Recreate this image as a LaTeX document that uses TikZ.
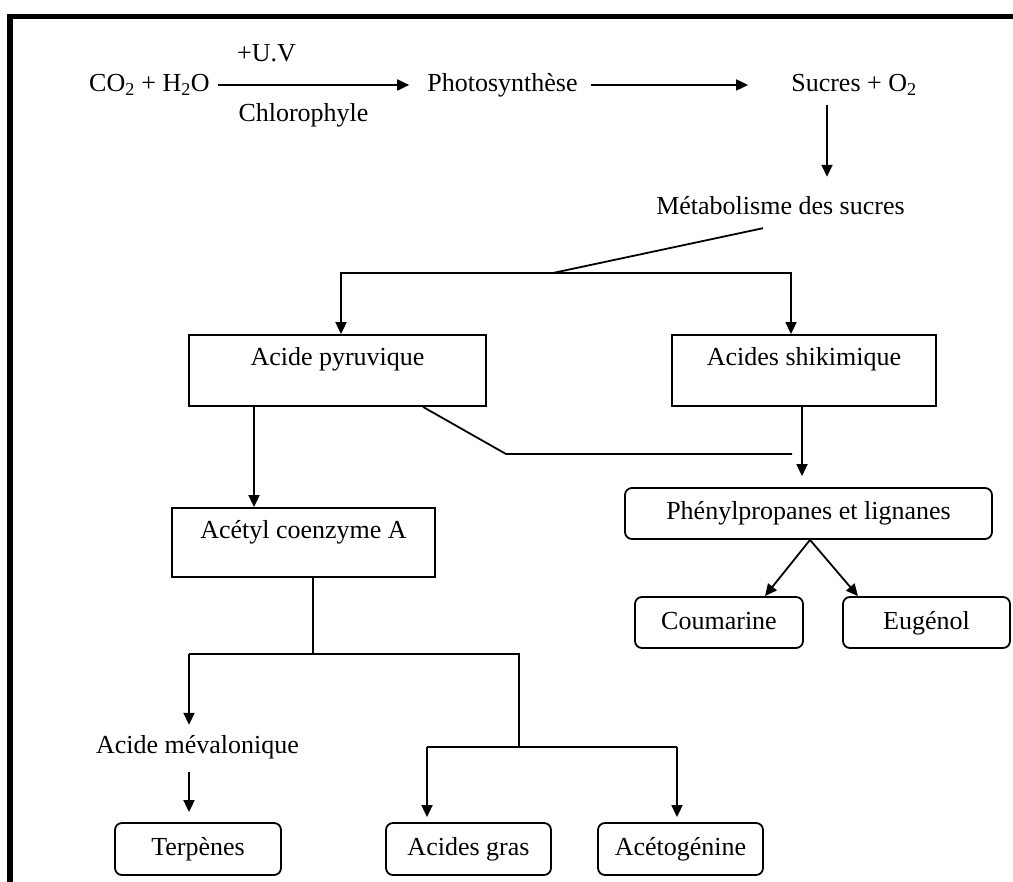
\documentclass[tikz,border=0pt]{standalone}
\usepackage{fontspec}
\setmainfont{Liberation Serif}
\usetikzlibrary{arrows.meta}
\begin{document}
\begin{tikzpicture}[x=1pt,y=-1pt,
  every node/.style={font=\fontsize{26}{30}\selectfont},
  txt/.style={inner sep=0pt, text height=18pt, text depth=5pt},
  sqbox/.style={draw, line width=1.8pt, inner sep=0pt, text height=31pt, text depth=40pt},
  rbox/.style={draw, line width=1.8pt, rounded corners=7pt, inner sep=0pt, text height=18pt, text depth=5pt, minimum height=51pt},
  ln/.style={line width=1.8pt},
  arr/.style={line width=1.8pt, -{Triangle[length=12pt,width=11pt]}}]
\useasboundingbox (0,0) rectangle (1013,882);
% frame
\draw[line width=5.5pt, line join=miter] (10,900) -- (10,16.5) -- (1040,16.5);
% top row
\node[txt] (co2) at (149.5,85) {CO\textsubscript{2} + H\textsubscript{2}O};
\node[txt] (uv) at (266.5,55) {+U.V};
\node[txt] (chl) at (303.5,115) {Chlorophyle};
\node[txt] (photo) at (502.5,85) {Photosynthèse};
\node[txt] (sucres) at (854,85) {Sucres + O\textsubscript{2}};
\node[txt] (metab) at (780.5,208) {Métabolisme des sucres};
% boxes
\node[sqbox, minimum width=297pt] (pyr) at (337.5,370.5) {Acide pyruvique};
\node[sqbox, minimum width=264pt] (shi) at (804,370.5) {Acides shikimique};
\node[sqbox, minimum width=263pt, text depth=38pt] (acet) at (303.5,542.5) {Acétyl coenzyme A};
\node[rbox, minimum width=367pt] (phen) at (808.5,513.5) {Phénylpropanes et lignanes};
\node[rbox, minimum width=168pt] (coum) at (719,622.5) {Coumarine};
\node[rbox, minimum width=167pt] (eug) at (926.5,622.5) {Eugénol};
\node[txt] (meva) at (197.5,747) {Acide mévalonique};
\node[rbox, minimum width=166pt, minimum height=52pt] (terp) at (198,849) {Terpènes};
\node[rbox, minimum width=165pt, minimum height=52pt] (gras) at (468.5,849) {Acides gras};
\node[rbox, minimum width=165pt, minimum height=52pt] (aceto) at (680.5,849) {Acétogénine};
% junction coordinates
\coordinate (jA) at (553,273);
\coordinate (jL) at (341,273);
\coordinate (jR) at (791,273);
\coordinate (jP) at (506,454);
\coordinate (jPe) at (792,454);
\coordinate (jM) at (313,654);
\coordinate (jML) at (189,654);
\coordinate (jMR) at (519,654);
\coordinate (jG) at (519,747);
\coordinate (jGL) at (427,747);
\coordinate (jGR) at (677,747);
% connectors
\draw[arr, shorten <=8pt, shorten >=18pt] (co2) -- (photo);
\draw[arr, shorten <=13pt, shorten >=43pt] (photo) -- (sucres);
\draw[arr, shorten <=8.5pt, shorten >=19.5pt] ([xshift=-27pt]sucres.south) -- ([xshift=46.5pt]metab.north);
\draw[ln] ([xshift=-17.5pt,yshift=-8.5pt]metab.south) -- (jA);
\draw[arr] (jA) -- (jL) -- (jL |- pyr.north);
\draw[arr] (jA) -- (jR) -- (jR |- shi.north);
\draw[arr] ([xshift=-83.5pt]pyr.south) -- ([xshift=-49.5pt]acet.north);
\draw[ln] ([xshift=85.5pt]pyr.south) -- (jP) -- (jPe);
\draw[arr, shorten >=11pt] ([xshift=-2pt]shi.south) -- ([xshift=-6.5pt]phen.north);
\draw[arr] ([xshift=1.5pt]phen.south) -- ([xshift=46pt]coum.north);
\draw[arr] ([xshift=1.5pt]phen.south) -- ([xshift=-68.5pt]eug.north);
\draw[ln] ([xshift=9.5pt]acet.south) -- (jM);
\draw[ln] (jML) -- (jMR) -- (jG);
\draw[arr, shorten >=10.5pt] (jML) -- (jML |- meva.north);
\draw[arr, shorten <=13.5pt, shorten >=10pt] (meva.south -| jML) -- (terp.north -| jML);
\draw[ln] (jGL) -- (jGR);
\draw[arr, shorten >=5pt] (jGL) -- (jGL |- gras.north);
\draw[arr, shorten >=5pt] (jGR) -- (jGR |- aceto.north);
\end{tikzpicture}
\end{document}
